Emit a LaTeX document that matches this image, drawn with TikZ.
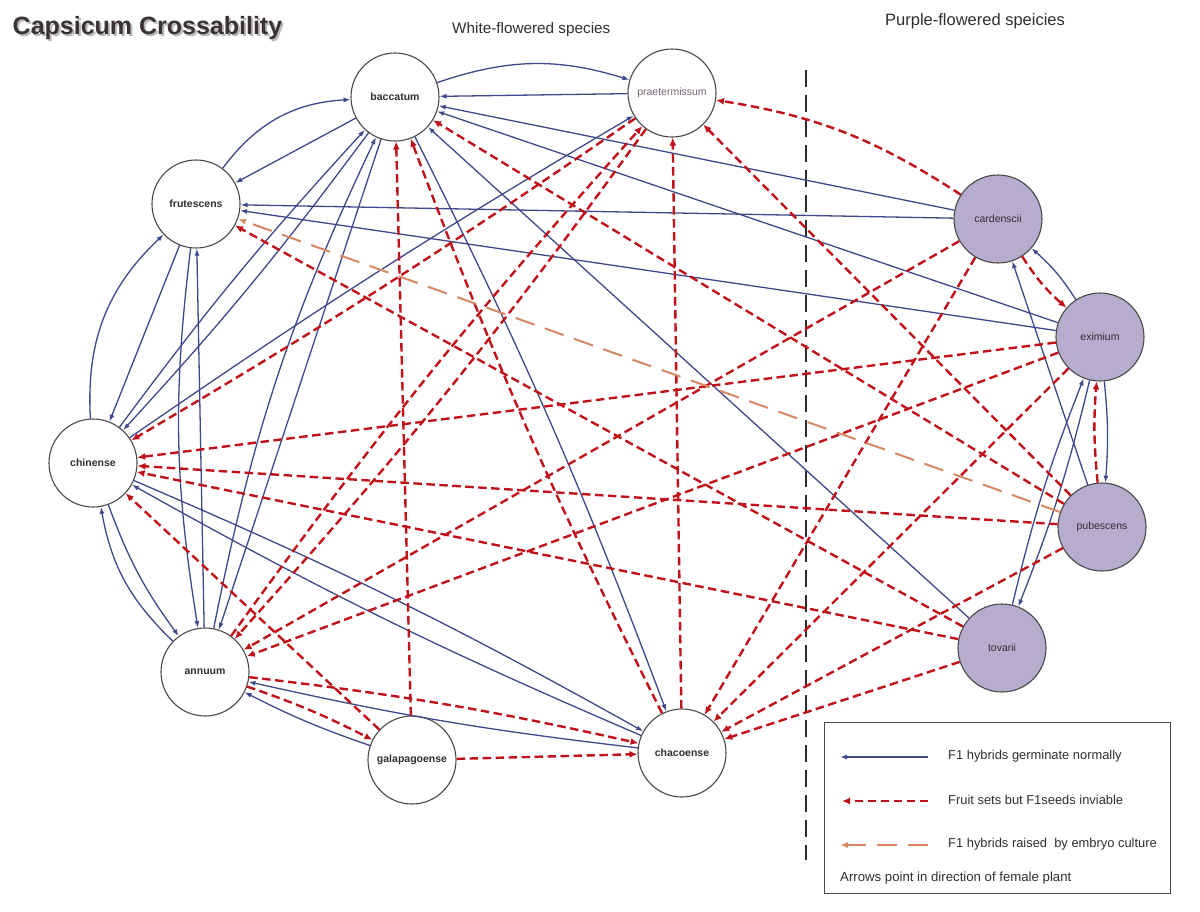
\documentclass[tikz,border=0pt]{standalone}
\usepackage{fontspec}
\setmainfont{Liberation Sans}
\usetikzlibrary{arrows.meta}
\definecolor{eblue}{RGB}{62,72,138}
\definecolor{ered}{RGB}{192,18,24}
\definecolor{eorange}{RGB}{214,136,98}
\definecolor{pfill}{RGB}{182,172,206}
\definecolor{nborder}{RGB}{72,72,72}
\definecolor{ttl}{RGB}{58,50,55}
\definecolor{txt}{RGB}{50,45,50}
\tikzset{
  wnode/.style={circle, draw=nborder, line width=1.1pt, fill=white, minimum size=88pt, inner sep=0pt,
    font=\fontsize{10.5}{12}\selectfont\bfseries, text=txt},
  pnode/.style={wnode, fill=pfill, font=\fontsize{10.5}{12}\selectfont, text=txt},
  bl/.style={draw=eblue, line width=1.3pt, -{Latex[length=7pt,width=5pt]}},
  rd/.style={draw=ered, line width=2.4pt, dash pattern=on 8.5pt off 4.5pt, -{Latex[length=8pt,width=7pt]}},
  og/.style={draw=eorange, line width=2pt, dash pattern=on 20pt off 11pt, -{Latex[length=8pt,width=6pt]}},
  hdr/.style={anchor=west, inner sep=0pt, text=txt, font=\fontsize{15.3}{18}\selectfont},
  lgd/.style={anchor=west, inner sep=0pt, text=txt, font=\fontsize{12.9}{15}\selectfont}
}
\begin{document}
\begin{tikzpicture}[x=1pt,y=-1pt]
\useasboundingbox (0,0) rectangle (1200,911);

% title and headers
\node[anchor=west, inner sep=0pt, font=\fontsize{25}{29}\selectfont\bfseries, text=gray!55] (tshadow) at (14.5,30.5) {Capsicum Crossability};
\node[anchor=west, inner sep=0pt, font=\fontsize{25}{29}\selectfont\bfseries, text=ttl] (title) at (12.5,28.5) {Capsicum Crossability};
\node[hdr] (white) at (452,30) {White-flowered species};
\node[hdr, font=\fontsize{16.5}{19}\selectfont] (purple) at (885,21) {Purple-flowered speicies};

% divider
\coordinate (dtop) at (806,70);
\coordinate (dbot) at (806,860);
\draw[draw={rgb,255:red,45;green,45;blue,45}, line width=2pt, dash pattern=on 17pt off 8pt] (dtop) -- (dbot);

% nodes
\node[wnode] (bac) at (395,97) {baccatum};
\node[wnode, font=\fontsize{10.5}{12}\selectfont, text={rgb,255:red,115;green,100;blue,115}] (pra) at (672,93) {praetermissum};
\node[wnode] (fru) at (196,204) {frutescens};
\node[wnode] (chi) at (93,463) {chinense};
\node[wnode] (ann) at (205,672) {annuum};
\node[wnode] (gal) at (412,760) {galapagoense};
\node[wnode] (cha) at (682,753) {chacoense};
\node[pnode] (car) at (998,219) {cardenscii};
\node[pnode] (exi) at (1100,337) {eximium};
\node[pnode] (pub) at (1102,527) {pubescens};
\node[pnode] (tov) at (1002,648) {tovarii};

% blue: F1 hybrids germinate normally
\draw[bl] (bac) to[bend left=18] (pra);
\draw[bl] (pra) -- (bac);
\draw[bl] (car) -- (bac);
\draw[bl] (exi) -- (bac);
\draw[bl] (car) -- (fru);
\draw[bl] (exi) -- (fru);
\draw[bl] (tov) -- (bac);
\draw[bl] (bac) to[bend left=3] (cha);
\draw[bl] (exi) to[bend right=8] (car);
\draw[bl] (pub) -- (car);
\draw[bl] (exi) to[bend left=5] (pub);
\draw[bl] (tov) to[bend left=4] (exi);
\draw[bl] (exi) to[bend left=4] (tov);
\draw[bl] (fru) to[bend left=25] (bac);
\draw[bl] (bac) -- (fru);
\draw[bl] (bac) to[bend left=3] (chi);
\draw[bl] (chi) to[bend left=3] (bac);
\draw[bl] (bac) -- (ann);
\draw[bl] (ann) to[bend left=7] (bac);
\draw[bl] (chi) to[bend left=25] (fru);
\draw[bl] (fru) -- (chi);
\draw[bl] (fru) to[bend right=8] (ann);
\draw[bl] (ann) -- (fru);
\draw[bl] (chi) to[bend right=8] (ann);
\draw[bl] (ann) to[bend left=18] (chi);
\draw[bl] (chi) to[bend left=3] (cha);
\draw[bl] (cha) to[bend left=3] (chi);
\draw[bl] (cha) to[bend left=3] (ann);
\draw[bl] (gal) to[bend left=4] (ann);
\draw[bl] (chi) to[bend left=2] (pra);

% red: fruit sets but F1 seeds inviable
\draw[rd] (car) to[bend right=12] (pra);
\draw[rd] (car) -- (ann);
\draw[rd] (car) -- (cha);
\draw[rd] (car) to[bend right=8] (exi);
\draw[rd] (pub) to[bend left=5] (exi);
\draw[rd] (exi) -- (chi);
\draw[rd] (exi) -- (ann);
\draw[rd] (exi) -- (cha);
\draw[rd] (pub) -- (bac);
\draw[rd] (pub) -- (pra);
\draw[rd] (pub) -- (chi);
\draw[rd] (pub) -- (cha);
\draw[rd] (tov) -- (fru);
\draw[rd] (tov) -- (chi);
\draw[rd] (tov) -- (cha);
\draw[rd] (cha) -- (pra);
\draw[rd] (cha) to[bend left=3] (bac);
\draw[rd] (gal) -- (bac);
\draw[rd] (gal) -- (cha);
\draw[rd] (gal) -- (chi);
\draw[rd] (ann) to[bend left=4] (gal);
\draw[rd] (ann) to[bend left=3] (cha);
\draw[rd] (pra) to[bend left=2] (chi);
\draw[rd] (pra) to[bend left=3] (ann);
\draw[rd] (ann) to[bend left=3] (pra);

% orange: embryo culture
\draw[og] (pub) -- (fru);

% legend
\node[draw=nborder, line width=1.2pt, minimum width=346pt, minimum height=171pt, anchor=north west, inner sep=0pt] (lbox) at (824,722) {};
\coordinate (l1a) at (928,757); \coordinate (l1b) at (840,757);
\coordinate (l2a) at (928,801); \coordinate (l2b) at (842,801);
\coordinate (l3a) at (928,845); \coordinate (l3b) at (840,845);
\draw[bl] (l1a) -- (l1b);
\draw[rd] (l2a) -- (l2b);
\draw[og] (l3a) -- (l3b);
\node[lgd] (t1) at (948,756) {F1 hybrids germinate normally};
\node[lgd] (t2) at (948,800) {Fruit sets but F1seeds inviable};
\node[lgd] (t3) at (948,844) {F1 hybrids raised\ \ by embryo culture};
\node[lgd, font=\fontsize{13.2}{15}\selectfont] (t4) at (840,878) {Arrows point in direction of female plant};
\end{tikzpicture}
\end{document}
